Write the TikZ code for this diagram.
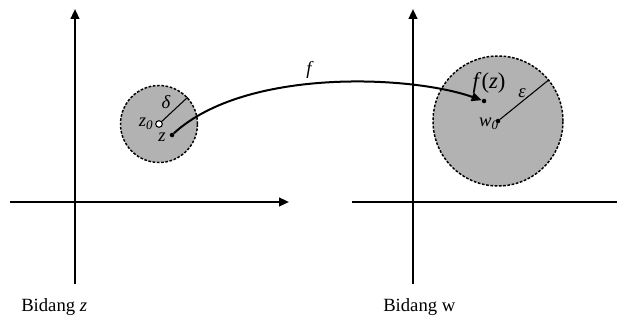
\documentclass[tikz,border=0pt]{standalone}
\usepackage{fontspec}
\setmainfont{Liberation Serif}
\usetikzlibrary{arrows.meta,positioning}

\begin{document}
\begin{tikzpicture}[x=0.75pt,y=-0.75pt,>={Triangle[length=7.5pt,width=6.5pt]},
  axis/.style={line width=1.6pt},
  disc/.style={circle,draw,line width=1.1pt,dash pattern=on 2pt off 1.2pt,fill=black!30,inner sep=0pt},
  pt/.style={circle,fill,inner sep=0pt,minimum size=3.4pt},
  lbl/.style={font=\itshape\fontsize{14}{14}\selectfont,inner sep=1pt}]
  \useasboundingbox (0,0) rectangle (617,321);
  % plane z
  \coordinate (zyb) at (75,284);
  \coordinate (zyt) at (75,9);
  \coordinate (zxl) at (10,202);
  \coordinate (zxr) at (289,202);
  \draw[axis,->] (zyb) -- (zyt);
  \draw[axis,->] (zxl) -- (zxr);
  % plane w
  \coordinate (wyb) at (413,284);
  \coordinate (wyt) at (413,9);
  \coordinate (wxl) at (352,202);
  \coordinate (wxr) at (617,202);
  \draw[axis,->] (wyb) -- (wyt);
  \draw[axis] (wxl) -- (wxr);
  % neighbourhood of z0
  \node[disc,minimum size=57.75pt] (dz) at (159,124) {};
  \node[circle,draw,fill=white,line width=0.8pt,inner sep=0pt,minimum size=5pt] (z0) at (dz.center) {};
  \draw[line width=0.8pt] (z0) -- (dz.43);
  \node[pt] (z) at (172,135) {};
  \node[lbl] (dlt) at (166,102) {δ};
  \node[lbl] (z0l) at (146,124) {z\textsubscript{0}};
  \node[lbl] (zl) at (162,137) {z};
  % neighbourhood of w0
  \node[disc,minimum size=97.5pt] (dw) at (498,121) {};
  \node[pt] (w0) at (dw.center) {};
  \draw[line width=0.8pt] (w0) -- (dw.39);
  \node[pt] (fz) at (484,101) {};
  \node[lbl] (eps) at (522,93) {ε};
  \node[lbl] (w0l) at (489,124) {w\textsubscript{0}};
  \node[font=\itshape\fontsize{17}{17}\selectfont,inner sep=1pt] (fzl) at (489,83) {f\textup{(}z\textup{)}};
  % the map
  \draw[line width=1.5pt,->] (z) .. controls (245,68) and (410,75) .. (fz);
  \node[lbl] (fl) at (309,70) {f};
  % captions
  \node[font=\fontsize{14}{14}\selectfont,anchor=west,inner sep=0pt] (cz) at (21,307) {Bidang \textit{z}};
  \node[font=\fontsize{14}{14}\selectfont,anchor=west,inner sep=0pt] (cw) at (383,307) {Bidang w};
\end{tikzpicture}
\end{document}
